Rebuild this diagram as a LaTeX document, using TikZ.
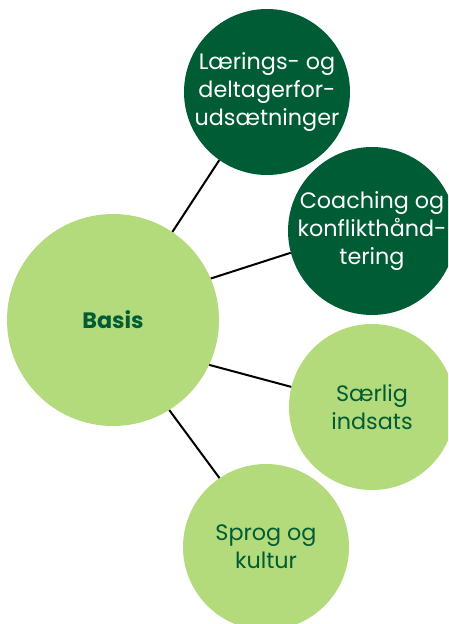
\documentclass[tikz,border=0pt]{standalone}
\usepackage{fontspec}
\setmainfont{Poppins}
\definecolor{darkgreen}{HTML}{005C35}
\definecolor{lightgreen}{HTML}{B3DA7B}

\begin{document}
\begin{tikzpicture}[x=1pt, y=-1pt,
    bubble/.style={circle, minimum size=166pt, inner sep=0pt, align=center,
                   font=\fontsize{22.3}{28}\selectfont},
    dark/.style={bubble, fill=darkgreen, text=white},
    light/.style={bubble, fill=lightgreen, text=darkgreen},
    link/.style={line width=2pt}]
    \useasboundingbox (0, 0) rectangle (448, 624);
    \clip (0, 0) rectangle (448, 624);

    % Centre
    \node [light, minimum size=212pt, font=\fontsize{22.3}{28}\selectfont\bfseries]
          (basis) at (113, 320) {Basis};

    % Dark bubbles
    \node [dark] (laering) at (267, 92) {Lærings- og\\deltagerfor-\\udsætninger};
    \node [dark] (coach) at (372, 231) {Coaching og\\konflikthånd-\\tering};

    % Light bubbles
    \node [light] (saerlig) at (372, 407) {Særlig\\indsats};
    \node [light] (sprog) at (266, 547) {Sprog og\\kultur};

    % Connections
    \draw [link] (basis.56) -- (laering.235);
    \draw [link] (basis.23) -- (coach.195);
    \draw [link] (basis.-25) -- (saerlig.166);
    \draw [link] (basis.-58) -- (sprog.124);
\end{tikzpicture}
\end{document}
